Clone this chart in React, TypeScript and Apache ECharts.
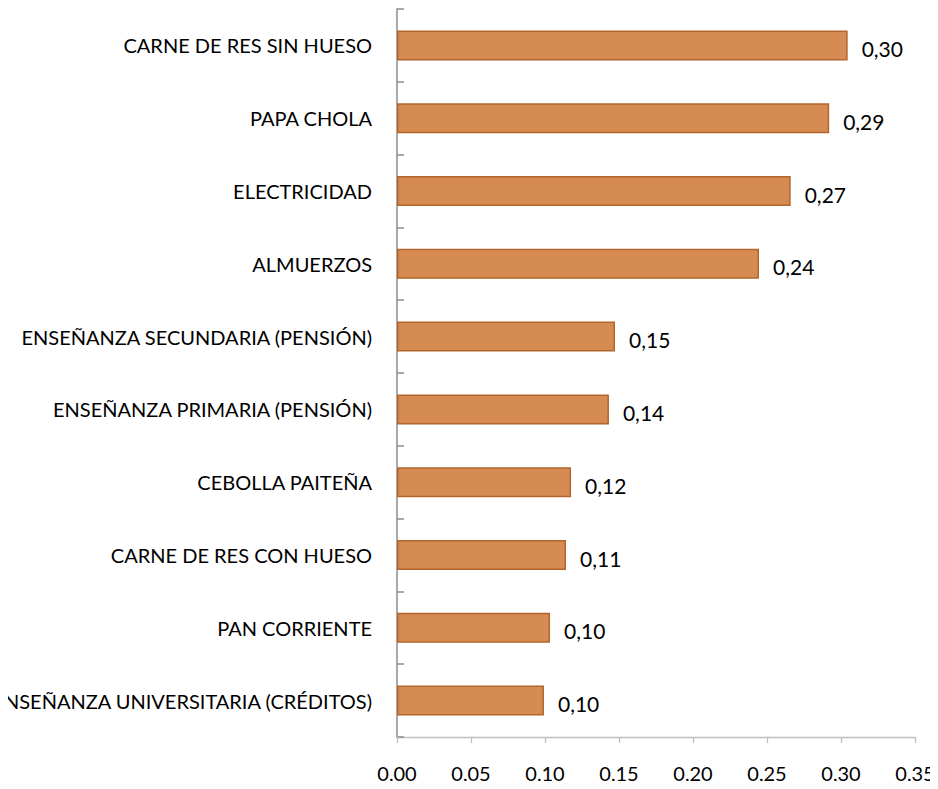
import React, { useEffect, useRef } from "react";
import * as echarts from "echarts";

const categories = [
  "ENSEÑANZA UNIVERSITARIA (CRÉDITOS)",
  "PAN CORRIENTE",
  "CARNE DE RES CON HUESO",
  "CEBOLLA PAITEÑA",
  "ENSEÑANZA PRIMARIA (PENSIÓN)",
  "ENSEÑANZA SECUNDARIA (PENSIÓN)",
  "ALMUERZOS",
  "ELECTRICIDAD",
  "PAPA CHOLA",
  "CARNE DE RES SIN HUESO",
];
const values = [0.0993, 0.1034, 0.1142, 0.1176, 0.1432, 0.1473, 0.2446, 0.266, 0.292, 0.3045];

const FONT = "Lato";

export default function App() {
  const ref = useRef<HTMLDivElement>(null);
  useEffect(() => {
    const chart = echarts.init(ref.current!, null, { renderer: "svg" });
    chart.setOption({
      animation: false,
      backgroundColor: "#ffffff",
      grid: { left: 397, right: 23, top: 9, bottom: 52, containLabel: false, outerBoundsMode: "none" },
      xAxis: {
        type: "value",
        min: 0,
        max: 0.35,
        interval: 0.05,
        axisLine: { show: true, lineStyle: { color: "#BFBFBF", width: 1.3 } },
        axisTick: { show: true, inside: false, length: 6, lineStyle: { color: "#BFBFBF", width: 1.3 } },
        splitLine: { show: false },
        axisLabel: {
          margin: 26,
          color: "#000",
          fontFamily: FONT,
          fontSize: 20,
          formatter: (v: number) => v.toFixed(2).replace(".", ","),
        },
      },
      yAxis: {
        type: "category",
        data: categories,
        axisLine: { show: true, lineStyle: { color: "#8C8C8C", width: 1.5 } },
        axisTick: { show: true, inside: true, length: 7, alignWithLabel: false, lineStyle: { color: "#8C8C8C", width: 1.5 } },
        axisLabel: { margin: 25, color: "#000", fontFamily: FONT, fontSize: 20 },
      },
      series: [
        {
          type: "bar",
          data: values,
          barWidth: 30,
          itemStyle: { color: "#D68B52", borderColor: "#B3652B", borderWidth: 1.5 },
          label: {
            show: true,
            position: "right",
            distance: 14,
            offset: [0, 3],
            color: "#000",
            fontFamily: FONT,
            fontSize: 21,
            formatter: (p: any) => p.value.toFixed(2).replace(".", ","),
          },
        },
      ],
    });
    return () => chart.dispose();
  }, []);
  return <div ref={ref} style={{ width: 938, height: 789, margin: -8 }} />;
}
